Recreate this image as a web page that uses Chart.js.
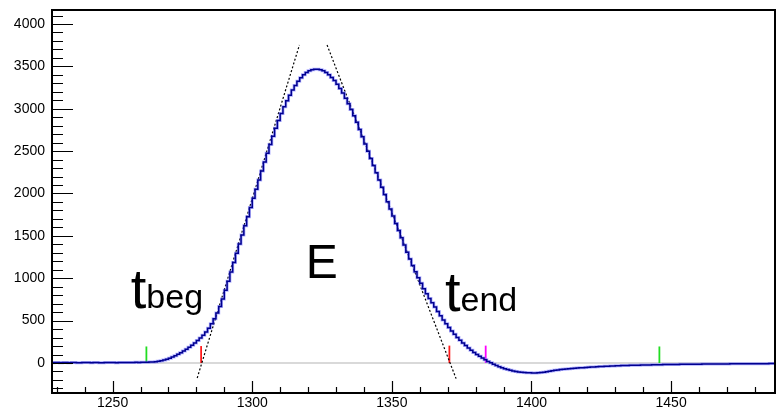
<!DOCTYPE html>
<html>
<head>
<meta charset="utf-8">
<script src="https://cdn.jsdelivr.net/npm/chart.js@4.4.0/dist/chart.umd.min.js"></script>
<style>
  html, body { margin: 0; padding: 0; background: #fff; }
  canvas { display: block; }
</style>
</head>
<body>
<canvas id="pulso" width="776" height="411"></canvas>
<script>
// contenido por bin (ancho 1), desde binStart
const binStart = 1228;
const counts = [
    4, 6, 5, 3, 5, 7, 4, 5, 6, 4, 3, 5, 6, 5, 4, 6, 5, 3, 4, 6, 5, 7, 5, 4, 6, 5, 6, 7, 5, 6, 8, 7, 8, 9,
    10, 11, 13, 16, 20, 26, 34, 44, 56, 70, 86, 103, 122, 142, 163, 186, 210, 236,
    264, 295, 328, 366, 410, 462, 522, 590, 668, 755,
    858, 965, 1075, 1185, 1295, 1403, 1511, 1619, 1727, 1835,
    1943, 2051, 2159, 2266, 2372, 2476, 2578, 2676, 2770, 2860,
    2944, 3022, 3094, 3160, 3220, 3275, 3323, 3365, 3400, 3427,
    3447, 3459, 3465, 3466, 3460, 3448, 3428, 3402, 3370, 3333,
    3290, 3240, 3185, 3125, 3060, 2990, 2918, 2840, 2755, 2670,
    2585, 2499, 2414, 2329, 2244, 2159, 2073, 1988, 1903, 1818,
    1733, 1647, 1562, 1477, 1392, 1307, 1228, 1150, 1076, 1006,
    940, 877, 818, 762, 710, 660, 607, 556, 508, 462,
    418, 377, 338, 302, 268, 236, 206, 178, 151, 125,
    101, 79, 58, 38, 19, 2, -15, -30, -44, -57,
    -68, -78, -87, -95, -101, -106, -110, -113, -115, -116,
    -117, -117, -115, -112, -108, -103, -98, -92, -87, -82,
    -78, -74, -71, -68, -65, -62, -60, -57, -55, -52,
    -50, -48, -46, -44, -42, -40, -38, -37, -35, -34,
    -33, -32, -31, -30, -29, -28, -27, -27, -26, -25,
    -24, -23, -23, -22, -21, -21, -20, -19, -19, -18,
    -18, -17, -17, -16, -16, -15, -15, -15, -14, -14,
    -14, -13, -13, -13, -12, -12, -12, -11, -11, -11,
    -11, -10, -10, -10, -10, -9, -9, -9, -9, -9,
    -8, -8, -8, -8, -8, -7, -7, -7
];

// rectas tangentes (ajuste de flancos)
const tangIzqX = [1280.3, 1316.9];
const tangIzqY = [-177, 3752];
const tangDerX = [1326.8, 1373.0];
const tangDerY = [3752, -184];

// marcas verticales
const marcasX = [1262.1, 1281.7, 1370.6, 1383.6, 1445.8];
const marcasAlto = [195, 200, 205, 205, 195];
const marcasColor = ['#22dd22', '#ff1a1a', '#ff1a1a', '#ff00ff', '#22dd22'];

// ejes
const xMin = 1228.3, xMax = 1487.2;
const yMin = -354, yMax = 4165;
const xTicks = [1250, 1300, 1350, 1400, 1450];
const yTicks = [0, 500, 1000, 1500, 2000, 2500, 3000, 3500, 4000];

const histo = counts.map((v, i) => ({ x: binStart + i, y: v }));
histo.push({ x: binStart + counts.length, y: counts[counts.length - 1] });

const datasets = [];
datasets.push({
    data: histo, stepped: true, borderColor: '#00008f', borderWidth: 1.5,
    pointRadius: 0, fill: false
});
datasets.push({
    data: histo, stepped: true, borderColor: 'rgba(110, 110, 255, 0.55)', borderWidth: 3,
    pointRadius: 0, fill: false
});
datasets.push({
    data: tangIzqX.map((x, i) => ({ x: x, y: tangIzqY[i] })),
    borderColor: '#000', borderWidth: 1.2, borderDash: [2, 2], pointRadius: 0
});
datasets.push({
    data: tangDerX.map((x, i) => ({ x: x, y: tangDerY[i] })),
    borderColor: '#000', borderWidth: 1.2, borderDash: [2, 2], pointRadius: 0
});
marcasX.forEach((x, i) => {
    datasets.push({
        data: [{ x: x, y: 0 }, { x: x, y: marcasAlto[i] }],
        borderColor: marcasColor[i], borderWidth: 1.8, pointRadius: 0
    });
});
datasets.push({
    data: [{ x: xMin, y: 0 }, { x: xMax, y: 0 }],
    borderColor: '#cccccc', borderWidth: 1.5, pointRadius: 0
});

// ticks hacia dentro, marco y textos al estilo ROOT
const marcoRoot = {
    id: 'marcoRoot',
    afterDraw(chart) {
        const { ctx, chartArea: a, scales: { x, y } } = chart;
        ctx.save();
        ctx.strokeStyle = '#000';
        ctx.lineWidth = 1.2;
        ctx.beginPath();
        for (let v = -300; v <= 4100; v += 100) {
            const py = Math.round(y.getPixelForValue(v)) + 0.5;
            const largo = v % 500 === 0 ? 21 : 11;
            ctx.moveTo(a.left, py);
            ctx.lineTo(a.left + largo, py);
        }
        for (let v = 1230; v <= 1480; v += 10) {
            const px = Math.round(x.getPixelForValue(v)) + 0.5;
            const largo = v % 50 === 0 ? 12 : 6;
            ctx.moveTo(px, a.bottom);
            ctx.lineTo(px, a.bottom - largo);
        }
        ctx.stroke();
        ctx.lineWidth = 2;
        ctx.strokeRect(a.left, a.top, a.right - a.left, a.bottom - a.top);

        ctx.fillStyle = '#000';
        ctx.textBaseline = 'alphabetic';
        ctx.textAlign = 'left';
        const etiqueta = (principal, sub, vx, vy, tam, tamSub) => {
            const px = x.getPixelForValue(vx), py = y.getPixelForValue(vy);
            ctx.font = tam + 'px "Liberation Sans", Arial, sans-serif';
            ctx.fillText(principal, px, py);
            const w = ctx.measureText(principal).width;
            if (sub) {
                ctx.font = tamSub + 'px "Liberation Sans", Arial, sans-serif';
                ctx.fillText(sub, px + w, py);
            }
        };
        etiqueta('t', 'beg', 1256.5, 646, 56, 34);
        etiqueta('E', '', 1319.2, 1000, 48, 0);
        etiqueta('t', 'end', 1369.0, 611, 56, 34);
        ctx.restore();
    }
};

const ctx = document.getElementById('pulso');
const grafica = new Chart(ctx, {
    type: 'line',
    data: { datasets: datasets },
    options: {
        responsive: false,
        animation: false,
        devicePixelRatio: 1,
        layout: { padding: { top: 10, right: 1, left: 0, bottom: 0 } },
        plugins: { legend: { display: false }, tooltip: { enabled: false } },
        scales: {
            x: {
                type: 'linear', min: xMin, max: xMax,
                grid: { display: false, drawTicks: false },
                border: { display: false },
                afterFit: s => { s.height = 18; s.paddingLeft = 0; s.paddingRight = 0; },
                afterBuildTicks: s => { s.ticks = xTicks.map(v => ({ value: v })); },
                ticks: {
                    padding: 2, color: '#000',
                    font: { family: '"Liberation Sans", Arial, sans-serif', size: 14 },
                    callback: v => String(v)
                }
            },
            y: {
                type: 'linear', min: yMin, max: yMax,
                grid: { display: false, drawTicks: false },
                border: { display: false },
                afterFit: s => { s.width = 52; s.paddingTop = 0; s.paddingBottom = 0; },
                afterBuildTicks: s => { s.ticks = yTicks.map(v => ({ value: v })); },
                ticks: {
                    padding: 7, color: '#000',
                    font: { family: '"Liberation Sans", Arial, sans-serif', size: 14 },
                    callback: v => String(v)
                }
            }
        }
    },
    plugins: [marcoRoot]
});
</script>
</body>
</html>
